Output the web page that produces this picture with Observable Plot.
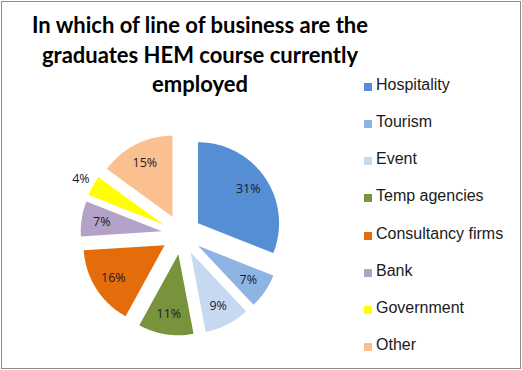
<!DOCTYPE html>
<html>
<head>
<meta charset="utf-8">
<script src="https://cdn.jsdelivr.net/npm/d3@7"></script>
<script src="https://cdn.jsdelivr.net/npm/@observablehq/plot@0.6"></script>
<style>
  html, body { margin: 0; padding: 0; background: #fff; }
  #chart { position: relative; width: 522px; height: 370px; overflow: hidden; background: #fff; }
  #frame { position: absolute; left: 1px; top: 1px; width: 518px; height: 366px; border: 1px solid #8c8c8c; }
  #title { position: absolute; left: 0; top: 10px; width: 400px; text-align: center;
           font-family: Lato, "Open Sans", sans-serif; font-weight: bold; font-size: 22px; line-height: 29.5px; color: #000; }
  #legend { position: absolute; left: 364px; top: 76px; font-family: "Liberation Sans", Arial, sans-serif; font-size: 16px; color: #1a1a1a; }
  .item { height: 37.15px; display: flex; align-items: flex-start; white-space: nowrap; }
  .sw { width: 8px; height: 8px; margin: 7px 4px 0 0; flex: none; }
  #plot { position: absolute; left: 0; top: 0; }
</style>
</head>
<body>
<div id="chart">
  <div id="plot"></div>
  <div id="frame"></div>
  <div id="title">In which of line of business are the<br>graduates HEM course currently<br>employed</div>
  <div id="legend"></div>
</div>
<script>
const categories = ["Hospitality", "Tourism", "Event", "Temp agencies", "Consultancy firms", "Bank", "Government", "Other"];
const values = [31, 7, 9, 11, 16, 7, 4, 15];
const colors = ["#558ED5", "#8EB4E3", "#C6D9F1", "#77933C", "#E46C0A", "#B3A2C7", "#FFFF00", "#FAC090"];

// layout (pixels)
const W = 522, H = 370;
const cx = 181, cy = 234, R = 81, explode = 20;

const total = d3.sum(values);
const arcs = d3.pie().sort(null).value(d => d)(values);

const polys = [];
const labels = [];
arcs.forEach((a, i) => {
  const mid = (a.startAngle + a.endAngle) / 2;
  const ox = cx + explode * Math.sin(mid);
  const oy = cy - explode * Math.cos(mid);
  polys.push({cat: categories[i], x: ox, y: oy});
  const n = Math.max(4, Math.ceil((a.endAngle - a.startAngle) / 0.02));
  for (let k = 0; k <= n; k++) {
    const t = a.startAngle + (a.endAngle - a.startAngle) * k / n;
    polys.push({cat: categories[i], x: ox + R * Math.sin(t), y: oy - R * Math.cos(t)});
  }
  const share = values[i] / total;
  const lr = share < 0.05 ? 1.17 * R : 0.75 * R;
  labels.push({cat: categories[i], text: Math.round(share * 100) + "%",
               x: ox + lr * Math.sin(mid), y: oy - lr * Math.cos(mid)});
});

const plot = Plot.plot({
  width: W, height: H,
  margin: 0,
  x: {domain: [0, W], range: [0, W], axis: null},
  y: {domain: [0, H], range: [0, H], axis: null},
  color: {domain: categories, range: colors},
  marks: [
    Plot.line(polys, {x: "x", y: "y", z: "cat", fill: "cat", stroke: "none", curve: "linear-closed"}),
    Plot.text(labels, {x: "x", y: "y", text: "text", fontSize: 12.5, fill: "#1a1a2a",
                       fontFamily: "'Open Sans', sans-serif"})
  ]
});
document.getElementById("plot").appendChild(plot);

const legend = document.getElementById("legend");
categories.forEach((c, i) => {
  const row = document.createElement("div");
  row.className = "item";
  const sw = document.createElement("span");
  sw.className = "sw";
  sw.style.background = colors[i];
  const tx = document.createElement("span");
  tx.textContent = c;
  row.appendChild(sw);
  row.appendChild(tx);
  legend.appendChild(row);
});
</script>
</body>
</html>
